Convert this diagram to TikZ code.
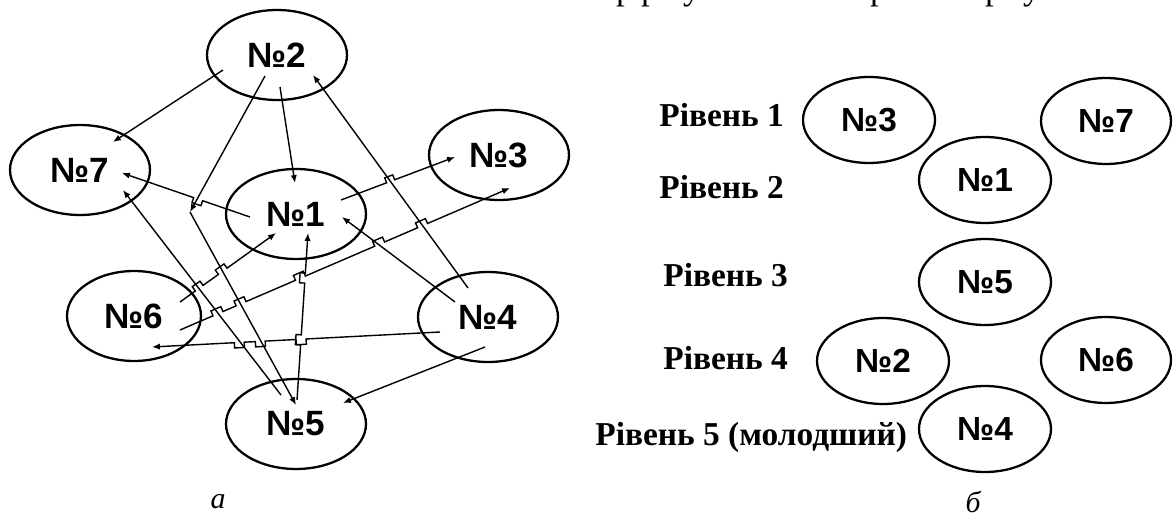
\documentclass[tikz,border=0pt]{standalone}
\usepackage{fontspec}
\setmainfont{Liberation Serif}
\newfontfamily\numfont{Liberation Sans}
\usetikzlibrary{arrows.meta,calc,shapes.geometric}

% a small rectangular jump on the straight line #1--#2 between fractions #3 and #4
\newcommand\hop[4]{-- ($(#1)!#3!(#2)$) -- ($(#1)!#3!(#2)!3pt!90:(#2)$) -- ($(#1)!#4!(#2)!3pt!90:(#2)$) -- ($(#1)!#4!(#2)$)}

\begin{document}
\begin{tikzpicture}[x=0.02cm,y=-0.02cm,
  vertex/.style={ellipse,draw,line width=1.3pt,minimum width=2.8cm,minimum height=1.8cm,inner sep=0pt,
    font=\numfont\bfseries\fontsize{20}{24}\selectfont},
  rvertex/.style={vertex,minimum width=2.64cm,minimum height=1.72cm,
    font=\numfont\bfseries\fontsize{19}{23}\selectfont},
  conn/.style={line width=0.8pt,line join=miter},
  arr/.style={conn,-{Latex[length=4.5pt,width=3.6pt]}},
  level/.style={font=\bfseries\fontsize{19}{23}\selectfont,anchor=west,inner sep=0pt},
  caption/.style={font=\itshape\fontsize{17}{20}\selectfont,inner sep=0pt},
  frag/.style={anchor=base,inner sep=0pt,font=\fontsize{20}{24}\selectfont}]

\fill[white] (0,0) rectangle (1173,513);
\useasboundingbox (0,0) rectangle (1173,513);

% descenders of the text line above, cut by the top edge
\begin{scope}
  \clip (0,0) rectangle (1173,513);
  \foreach \x/\c [count=\i] in {625/р,650/р,692/у,879/р,994/р,1032/у}
    \node[frag] (top\i) at (\x,0) {\c};
\end{scope}

% ---------- graph (а) ----------
\node[vertex] (n2) at (277,55) {№2};
\node[vertex] (n7) at (80,170) {№7};
\node[vertex] (n1) at (296,214) {№1};
\node[vertex] (n3) at (499,155) {№3};
\node[vertex,minimum width=2.68cm] (n6) at (134,316) {№6};
\node[vertex] (n4) at (488,317) {№4};
\node[vertex] (n5) at (296,424) {№5};

% connector ends, set inside the ellipses
\coordinate (a27) at ($(n2)+(-54,15)$);  \coordinate (b27) at ($(n7)+(33,-28)$);
\coordinate (a25) at ($(n2)+(-12,21)$);  \coordinate (bend) at (190,212);
\coordinate (b25) at ($(n5)+(0,-19)$);
\coordinate (a21) at ($(n2)+(3,32)$);    \coordinate (b21) at ($(n1)+(-1,-31)$);
\coordinate (a17) at ($(n1)+(-46,3)$);   \coordinate (b17) at ($(n7)+(42,3)$);
\coordinate (a13) at ($(n1)+(45,-14)$);  \coordinate (b13) at ($(n3)+(-44,2)$);
\coordinate (a61) at ($(n6)+(46,-14)$);  \coordinate (b61) at ($(n1)+(-20,19)$);
\coordinate (a63) at ($(n6)+(46,14)$);   \coordinate (b63) at ($(n3)+(11,33)$);
\coordinate (a57) at ($(n5)+(-15,-29)$); \coordinate (b57) at ($(n7)+(43,20)$);
\coordinate (a51) at ($(n5)+(1,-24)$);   \coordinate (b51) at ($(n1)+(12,19)$);
\coordinate (a42) at ($(n4)+(-20,-29)$); \coordinate (b42) at ($(n2)+(36,20)$);
\coordinate (a41) at ($(n4)+(-33,-15)$); \coordinate (b41) at ($(n1)+(46,3)$);
\coordinate (a46) at ($(n4)+(-48,15)$);  \coordinate (b46) at ($(n6)+(18,31)$);
\coordinate (a45) at ($(n4)+(-3,30)$);   \coordinate (b45) at ($(n5)+(47,-21)$);

\draw[arr] (a27) -- (b27);
\draw[arr] (a25) -- (bend);
\draw[arr] (bend) -- (b25);
\draw[arr] (a21) -- (b21);
\draw[arr] (a17) \hop{a17}{b17}{0.37}{0.44} -- (b17);
\draw[arr] (a13) \hop{a13}{b13}{0.40}{0.47} -- (b13);
\draw[arr] (a61) \hop{a61}{b61}{0.16}{0.24} \hop{a61}{b61}{0.40}{0.49} -- (b61);
\draw[arr] (a63) \hop{a63}{b63}{0.10}{0.13} \hop{a63}{b63}{0.17}{0.20}
  \hop{a63}{b63}{0.35}{0.38} \hop{a63}{b63}{0.59}{0.62} \hop{a63}{b63}{0.72}{0.75} -- (b63);
\draw[arr] (a57) -- (b57);
\draw[arr] (a51) \hop{a51}{b51}{0.33}{0.39} \hop{a51}{b51}{0.70}{0.76} -- (b51);
\draw[arr] (a42) -- (b42);
\draw[arr] (a41) -- (b41);
\draw[arr] (a46) \hop{a46}{b46}{0.465}{0.50} \hop{a46}{b46}{0.607}{0.641}
  \hop{a46}{b46}{0.68}{0.714} -- (b46);
\draw[arr] (a45) -- (b45);

\node[caption] (capa) at (218,502) {а};

% ---------- levels (б) ----------
\node[level] (l1) at (659,115) {Рівень 1};
\node[level] (l2) at (659,187) {Рівень 2};
\node[level] (l3) at (663,275) {Рівень 3};
\node[level] (l4) at (663,358) {Рівень 4};
\node[level] (l5) at (595,437) {Рівень 5 (молодший)};

\node[rvertex] (r3) at (869,120) {№3};
\node[rvertex,minimum width=2.6cm] (r7) at (1106,121) {№7};
\node[rvertex] (r1) at (985,180) {№1};
\node[rvertex] (r5) at (985,282) {№5};
\node[rvertex] (r2) at (883,361) {№2};
\node[rvertex,minimum width=2.6cm] (r6) at (1106,360) {№6};
\node[rvertex] (r4) at (985,429) {№4};

\node[caption] (capb) at (973,502) {б};
\end{tikzpicture}
\end{document}
